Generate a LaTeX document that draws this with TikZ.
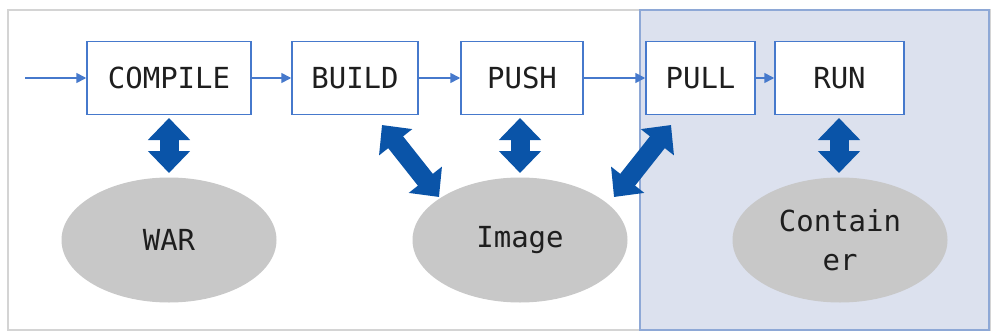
\documentclass[tikz,border=0pt]{standalone}
\usepackage{fontspec}
\setmonofont{DejaVu Sans Mono}
\usetikzlibrary{arrows.meta,shapes.geometric}
\definecolor{boxblue}{HTML}{4679CC}
\definecolor{darkblue}{HTML}{0A54A8}
\definecolor{panel}{HTML}{DCE1EE}
\definecolor{panelline}{HTML}{8EA8D6}
\definecolor{ellgray}{HTML}{C8C8C8}
\definecolor{framegray}{HTML}{D4D4D4}
\definecolor{txt}{HTML}{1E1E1E}
\begin{document}
\begin{tikzpicture}[x=1pt,y=-1pt,
 stepbox/.style={draw=boxblue, line width=1.5pt, fill=white, minimum height=73pt, inner sep=0pt,
   font=\ttfamily\fontsize{29}{32}\selectfont, text=txt},
 blob/.style={ellipse, fill=ellgray, minimum width=215pt, minimum height=125pt, inner sep=0pt,
   font=\ttfamily\fontsize{29}{39}\selectfont, text=txt, align=center},
 flow/.style={draw=boxblue, line width=1.6pt, -{Triangle[width=10pt,length=10pt]}},
 big/.style={draw=darkblue, line width=19pt, {Triangle[width=41pt,length=22pt]}-{Triangle[width=41pt,length=22pt]}}
]
\useasboundingbox (0,0) rectangle (992,332);
\fill[white] (0,0) rectangle (992,332);
\draw[framegray, line width=1.5pt] (8,10) rectangle (990,330);
\draw[panelline, fill=panel, line width=1.5pt] (640,10) rectangle (989,330);

\node[stepbox, minimum width=164pt] (compile) at (169,78) {COMPILE};
\node[stepbox, minimum width=126pt] (build) at (355,78) {BUILD};
\node[stepbox, minimum width=122pt] (push) at (522,78) {PUSH};
\node[stepbox, minimum width=109pt] (pull) at (700.5,78) {PULL};
\node[stepbox, minimum width=129pt] (run) at (839.5,78) {RUN};

\node[blob] (war) at (169,240) {WAR};
\node[blob] (image) at (520,240) {Image};
\node[blob] (container) at (840,240) {Contain\\er};

\coordinate (start) at (25,78);
\draw[flow] (start) -- (compile.west);
\draw[flow] (compile.east) -- (build.west);
\draw[flow] (build.east) -- (push.west);
\draw[flow] (push.east) -- (pull.west);
\draw[flow] (pull.east) -- (run.west);

\coordinate (c1) at (169,118); \coordinate (c2) at (169,173);
\coordinate (b1) at (382,125); \coordinate (b2) at (439,197);
\coordinate (p1) at (520,118); \coordinate (p2) at (520,173);
\coordinate (l1) at (671,125); \coordinate (l2) at (614,197);
\coordinate (r1) at (839,118); \coordinate (r2) at (839,173);
\draw[big] (c1) -- (c2);
\draw[big] (b1) -- (b2);
\draw[big] (p1) -- (p2);
\draw[big] (l1) -- (l2);
\draw[big] (r1) -- (r2);
\end{tikzpicture}
\end{document}
